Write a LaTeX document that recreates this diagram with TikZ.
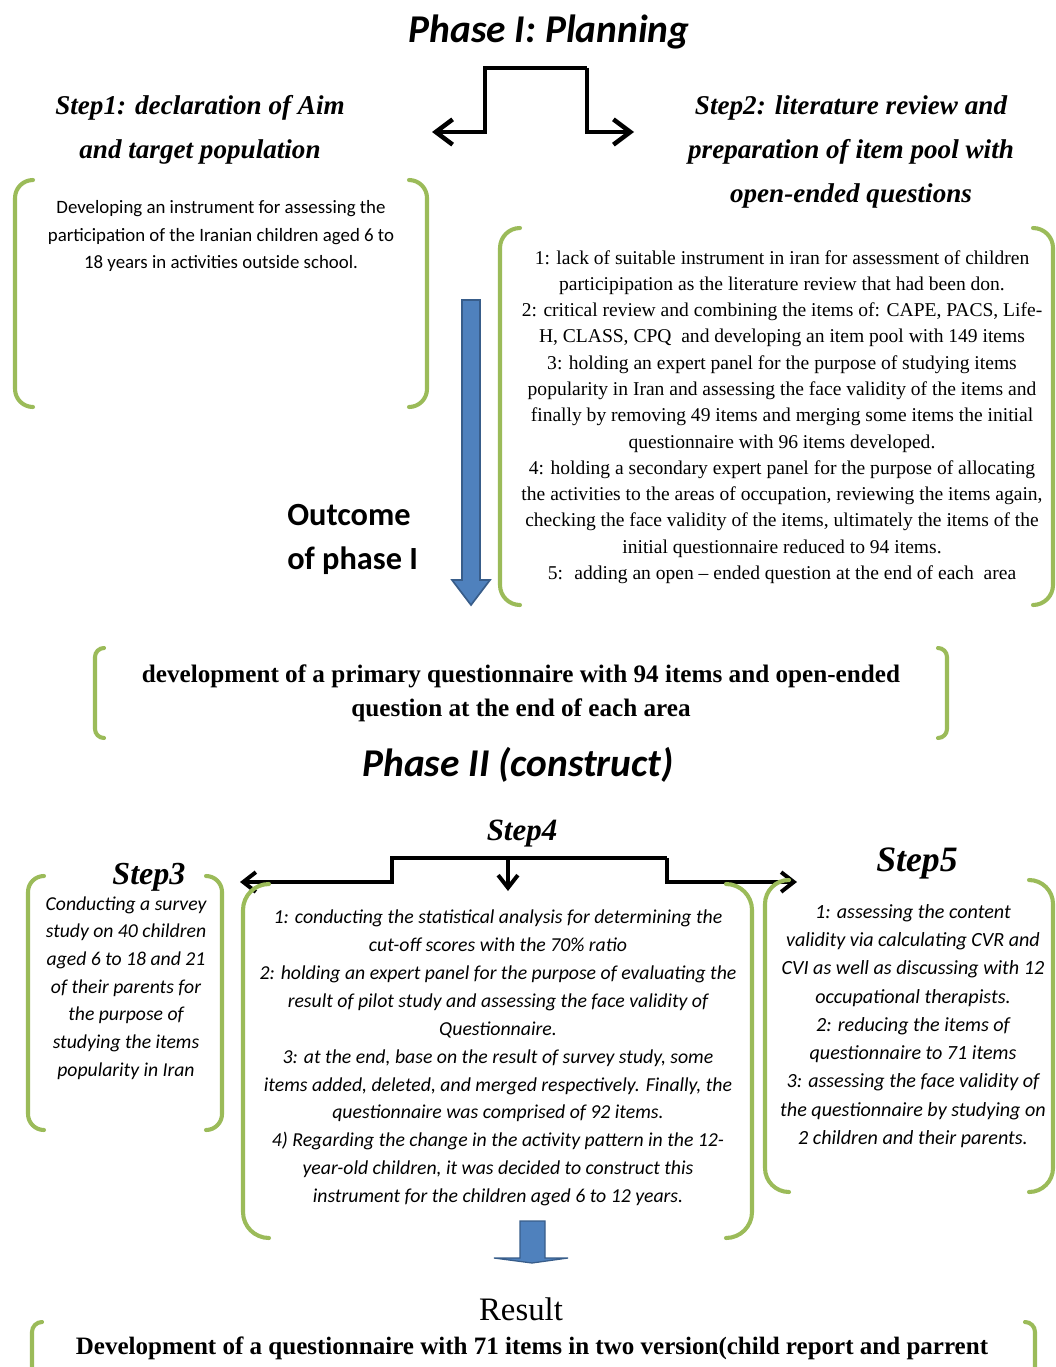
\documentclass[tikz,border=0pt]{standalone}
\usepackage{fontspec}
\setmainfont{Liberation Serif}
\newfontfamily\calibri{Carlito}
\usetikzlibrary{arrows.meta,positioning}
\definecolor{bracketCol}{HTML}{9BBB59}
\definecolor{arrowFill}{HTML}{4F81BD}
\definecolor{arrowDraw}{HTML}{385D8A}
\tikzstyle{bracket}=[line width=2.9pt, draw=bracketCol, line cap=round]
\tikzstyle{flow}=[line width=3.2pt, -{Straight Barb[length=12pt,width=18pt]}]
\tikzstyle{flowthin}=[line width=2.8pt, -{Straight Barb[length=9pt,width=14pt]}]
\tikzstyle{blockarrow}=[fill=arrowFill, draw=arrowDraw, line width=1.2pt]
\tikzstyle{phasetitle}=[font=\calibri\bfseries\itshape\fontsize{28}{32}\selectfont]
\tikzstyle{stephead}=[font=\bfseries\itshape\fontsize{19.3}{31.5}\selectfont, align=center]
\tikzstyle{bodytext}=[align=center, inner sep=0pt]
\tikzset{Brackets/.pic={\tikzset{/brackets/.cd,#1}
        % left bracket
        \draw[bracket, rounded corners=\brkarm*0.025cm] (\brkarm,0) -- (0,0) -- (0,\brkh) -- (\brkarm,\brkh);
        % right bracket
        \draw[bracket, rounded corners=\brkarm*0.025cm] (\brkw-\brkarm,0) -- (\brkw,0) -- (\brkw,\brkh) -- (\brkw-\brkarm,\brkh);
    },
    /brackets/.search also={/tikz},
    /brackets/.cd,
    width/.store in=\brkw, height/.store in=\brkh, arm/.store in=\brkarm,
    width=100, height=100, arm=18,
}
\begin{document}
\begin{tikzpicture}[x=0.025cm, y=-0.025cm]
    \useasboundingbox (0,0) rectangle (1056,1367);
    \clip (0,0) rectangle (1056,1367);

    % ==== PHASE I ====
    \node[phasetitle] (title1) at (549,32) {Phase I: Planning};

    \coordinate (fork1w) at (485,68);
    \coordinate (fork1e) at (587,68);
    \coordinate (step1in) at (432,132);
    \coordinate (step2in) at (634,132);
    \draw[flow] (fork1e) -- (fork1w) |- (step1in);
    \draw[flow] (fork1e) |- (step2in);

    \node[stephead] (step1head) at (200,130) {Step1: declaration of Aim\\and target population};
    \node[stephead] (step2head) at (851,152) {Step2: literature review and\\preparation of item pool with\\open-ended questions};

    % === STEP 1 BOX ===
    \pic at (15,180) {Brackets={width=412, height=227, arm=18}};
    \node[bodytext, font=\calibri\fontsize{13.4}{19.6}\selectfont] (step1text) at (221,236)
        {Developing an instrument for assessing the\\participation of the Iranian children aged 6 to\\18 years in activities outside school.};

    % === STEP 2 BOX ===
    \pic at (500,228) {Brackets={width=553, height=377, arm=20}};
    \node[bodytext, font=\fontsize{13.9}{18.7}\selectfont] (step2text) at (782,417)
        {1: lack of suitable instrument in iran for assessment of children\\
         participipation as the literature review that had been don.\\
         2: critical review and combining the items of: CAPE, PACS, Life-\\
         H, CLASS, CPQ~ and developing an item pool with 149 items\\
         3: holding an expert panel for the purpose of studying items\\
         popularity in Iran and assessing the face validity of the items and\\
         finally by removing 49 items and merging some items the initial\\
         questionnaire with 96 items developed.\\
         4: holding a secondary expert panel for the purpose of allocating\\
         the activities to the areas of occupation, reviewing the items again,\\
         checking the face validity of the items, ultimately the items of the\\
         initial questionnaire reduced to 94 items.\\
         5:~ adding an open -- ended question at the end of each~ area};

    % === OUTCOME ===
    \draw[blockarrow] (462,300) -- (480,300) -- (480,580) -- (490,580) -- (471,605) -- (452,580) -- (462,580) -- cycle;
    \node[anchor=west, align=left, inner sep=0pt, font=\calibri\bfseries\fontsize{23}{31.3}\selectfont] (outcome1) at (287,539)
        {Outcome\\of phase I};

    \pic at (95,648) {Brackets={width=852, height=90, arm=9}};
    \node[bodytext, font=\bfseries\fontsize{17.9}{24.2}\selectfont] (devtext) at (521,693)
        {development of a primary questionnaire with 94 items and open-ended\\question at the end of each area};

    % ==== PHASE II ====
    \node[phasetitle] (title2) at (518,765) {Phase II (construct)};

    \node[stephead, font=\bfseries\itshape\fontsize{22}{24}\selectfont] (step4head) at (522,834) {Step4};
    \node[stephead, font=\bfseries\itshape\fontsize{22.8}{25}\selectfont] (step3head) at (149,877) {Step3};
    \node[stephead, font=\bfseries\itshape\fontsize{25.4}{28}\selectfont] (step5head) at (917,863) {Step5};

    \coordinate (fork4w) at (392,858);
    \coordinate (fork4e) at (667,858);
    \coordinate (fork4m) at (508,858);
    \coordinate (step3in) at (240,882);
    \coordinate (step5in) at (797,882);
    \coordinate (step4in) at (508,891);
    \draw[flowthin] (fork4e) -- (fork4w) |- (step3in);
    \draw[flowthin] (fork4e) |- (step5in);
    \draw[flowthin] (fork4m) -- (step4in);

    % === STEP 3 BOX ===
    \pic at (28,876) {Brackets={width=194, height=254, arm=16}};
    \node[bodytext, font=\calibri\itshape\fontsize{14}{19.7}\selectfont] (step3text) at (126,988)
        {Conducting a survey\\study on 40 children\\aged 6 to 18 and 21\\of their parents for\\the purpose of\\studying the items\\popularity in Iran};

    % === STEP 4 BOX ===
    \pic at (243,884) {Brackets={width=509, height=354, arm=26}};
    \node[bodytext, font=\calibri\itshape\fontsize{14.05}{19.8}\selectfont] (step4text) at (498,1058)
        {1: conducting the statistical analysis for determining the\\
         cut-off scores with the 70\% ratio\\
         2: holding an expert panel for the purpose of evaluating the\\
         result of pilot study and assessing the face validity of\\
         Questionnaire.\\
         3: at the end, base on the result of survey study, some\\
         items added, deleted, and merged respectively. Finally, the\\
         questionnaire was comprised of 92 items.\\
         4) Regarding the change in the activity pattern in the 12-\\
         year-old children, it was decided to construct this\\
         instrument for the children aged 6 to 12 years.};

    % === STEP 5 BOX ===
    \pic at (765,880) {Brackets={width=288, height=312, arm=24}};
    \node[bodytext, font=\calibri\itshape\fontsize{14.3}{20.1}\selectfont] (step5text) at (913,1026)
        {1: assessing the content\\
         validity via calculating CVR and\\
         CVI as well as discussing with 12\\
         occupational therapists.\\
         2: reducing the items of\\
         questionnaire to 71 items\\
         3: assessing the face validity of\\
         the questionnaire by studying on\\
         2 children and their parents.};

    % === RESULT ===
    \draw[blockarrow, line width=0.9pt] (520,1221) -- (545,1221) -- (545,1258) -- (568,1258) -- (532,1263) -- (494,1258) -- (520,1258) -- cycle;
    \node[font=\fontsize{23.3}{26}\selectfont] (resultlabel) at (521,1309) {Result};

    \pic at (32,1322) {Brackets={width=1003, height=120, arm=10}};
    \node[bodytext, font=\bfseries\fontsize{17.8}{24.2}\selectfont] (finaltext) at (532,1348)
        {Development of a questionnaire with 71 items in two version(child report and parrent};

\end{tikzpicture}
\end{document}
